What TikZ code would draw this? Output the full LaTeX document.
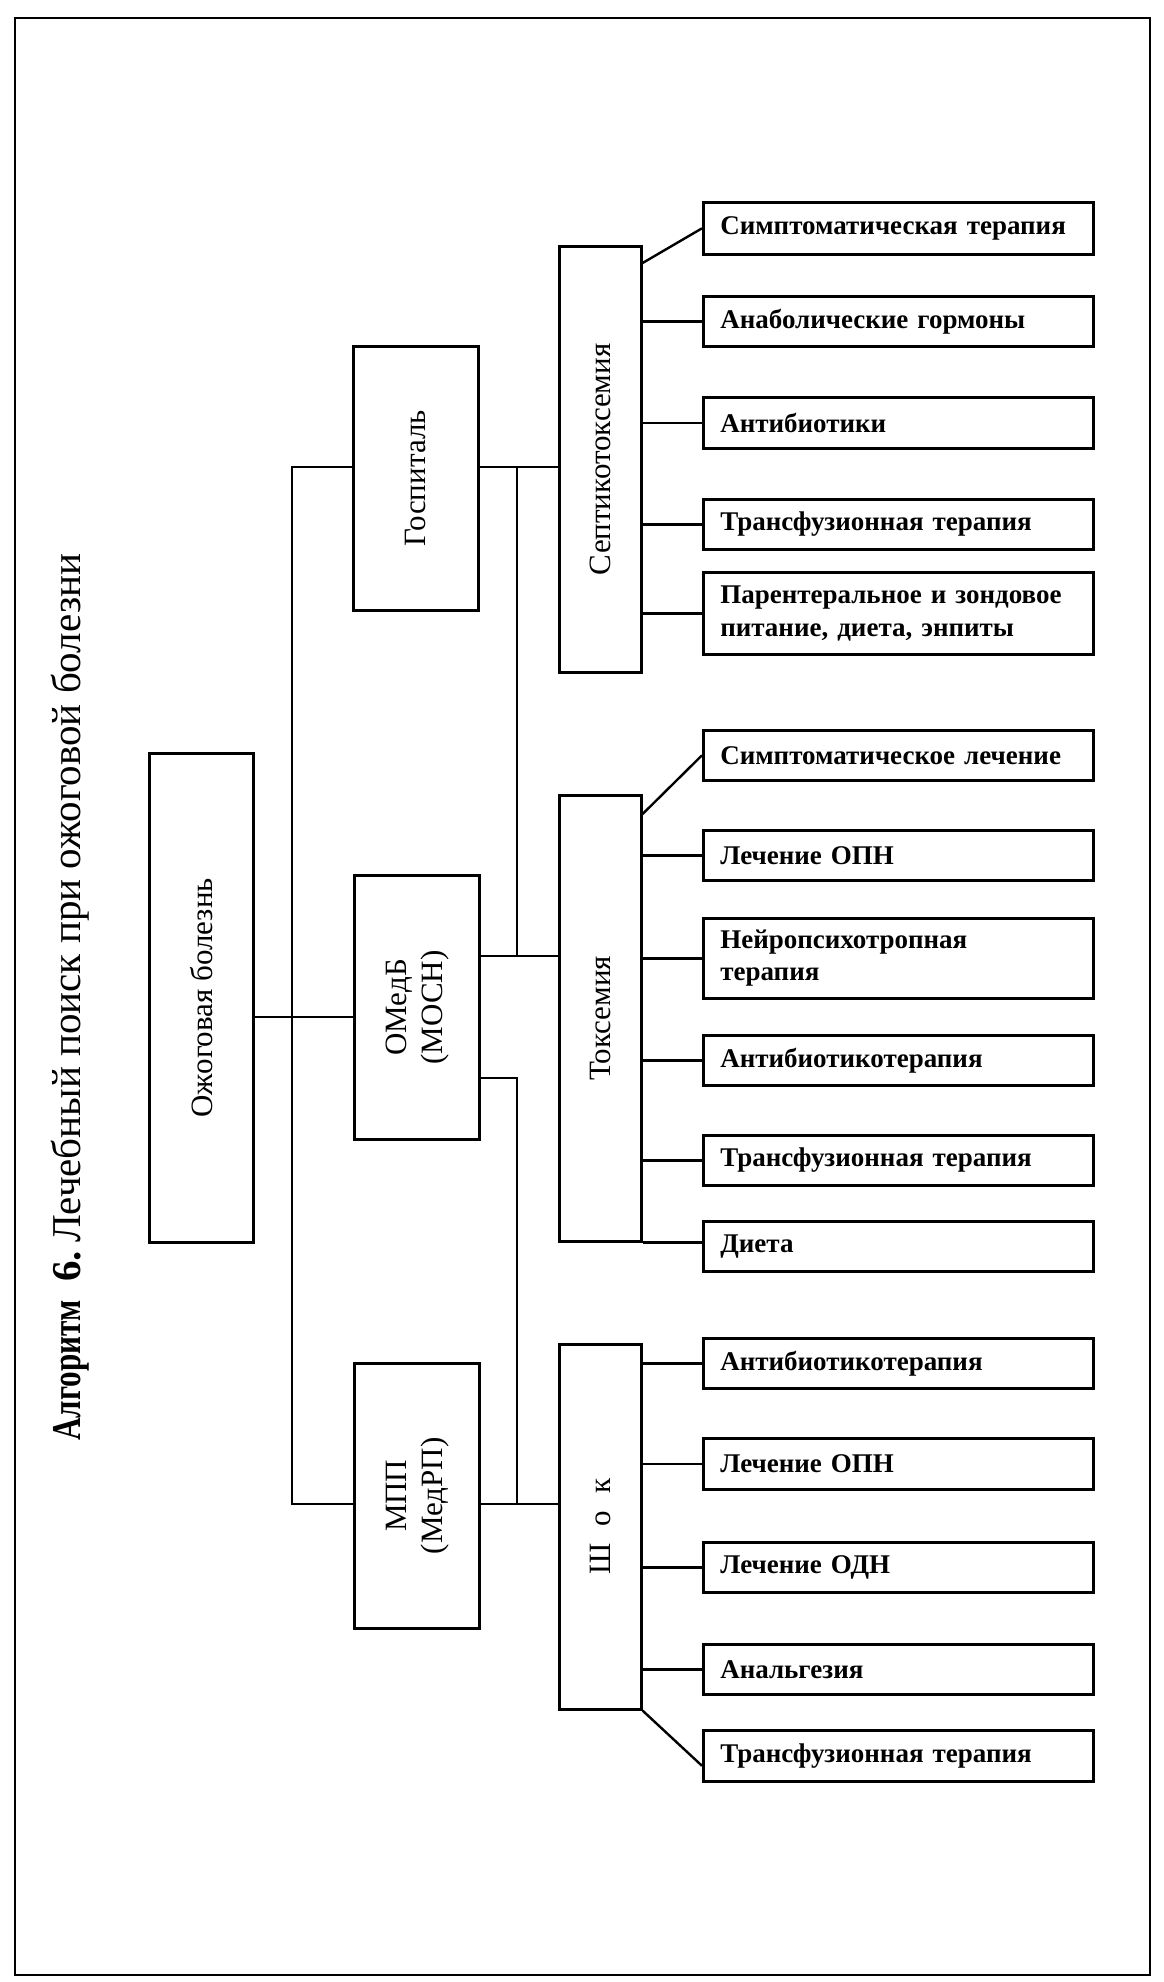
\documentclass[tikz,border=0pt]{standalone}
\usepackage{fontspec}
\setmainfont{Liberation Serif}
\begin{document}
\begin{tikzpicture}[x=1pt,y=-1pt,
  vbox/.style={draw, line width=2.6pt, anchor=north west, inner sep=0pt, font=\fontsize{31}{36}\selectfont},
  rbox/.style={draw, line width=2.6pt, anchor=north west, minimum width=390pt, text width=356pt, inner xsep=17pt, inner ysep=0pt, align=left, font=\fontsize{27}{32.5}\selectfont\bfseries},
  conn/.style={line width=2.4pt}]
\useasboundingbox (0,0) rectangle (1163,1982);
\draw[line width=2.8pt] (15,18) rectangle (1150,1975);

% title
\node[rotate=90, anchor=base west, inner sep=0pt, font=\fontsize{41}{47}\selectfont] (title) at (80,1441)
  {\scalebox{0.76}[1]{\textbf{Алгоритм}}\hspace{0.45em}\textbf{6.}\hspace{0.2em}Лечебный поиск при ожоговой болезни};

% main column boxes
\node[vbox, minimum width=104pt, minimum height=489pt] (ozh) at (148,752) {\rotatebox{90}{Ожоговая болезнь}};
\node[vbox, minimum width=125pt, minimum height=264pt] (gosp) at (352,345) {\rotatebox{90}{Госпиталь}};
\node[vbox, minimum width=125pt, minimum height=264pt] (omed) at (353,874) {\rotatebox{90}{\begin{tabular}{@{}c@{}}ОМедБ\\(МОСН)\end{tabular}}};
\node[vbox, minimum width=125pt, minimum height=265pt] (mpp) at (353,1362) {\rotatebox{90}{\begin{tabular}{@{}c@{}}МПП\\(МедРП)\end{tabular}}};

\node[vbox, minimum width=82pt, minimum height=426pt] (sept) at (558,245) {\rotatebox{90}{Септикотоксемия}};
\node[vbox, minimum width=82pt, minimum height=446pt] (tox) at (558,794) {\rotatebox{90}{Токсемия}};
\node[vbox, minimum width=82pt, minimum height=365pt] (shok) at (558,1343) {\rotatebox{90}{Ш\hspace{17pt}о\hspace{17pt}к}};

% right column
\node[rbox, minimum height=52pt] (s1) at (702,201) {Симптоматическая терапия};
\node[rbox, minimum height=50pt] (s2) at (702,295) {Анаболические гормоны};
\node[rbox, minimum height=51pt] (s3) at (702,396) {Антибиотики};
\node[rbox, minimum height=50pt] (s4) at (702,498) {Трансфузионная терапия};
\node[rbox, minimum height=82pt] (s5) at (702,571) {Парентеральное и зондовое\\питание, диета, энпиты};

\node[rbox, minimum height=50pt] (t1) at (702,729) {Симптоматическое лечение};
\node[rbox, minimum height=50pt] (t2) at (702,829) {Лечение ОПН};
\node[rbox, minimum height=80pt] (t3) at (702,917) {Нейропсихотропная\\терапия};
\node[rbox, minimum height=50pt] (t4) at (702,1034) {Антибиотикотерапия};
\node[rbox, minimum height=50pt] (t5) at (702,1134) {Трансфузионная терапия};
\node[rbox, minimum height=50pt] (t6) at (702,1220) {Диета};

\node[rbox, minimum height=50pt] (k1) at (702,1337) {Антибиотикотерапия};
\node[rbox, minimum height=51pt] (k2) at (702,1437) {Лечение ОПН};
\node[rbox, minimum height=50pt] (k3) at (702,1541) {Лечение ОДН};
\node[rbox, minimum height=50pt] (k4) at (702,1643) {Анальгезия};
\node[rbox, minimum height=51pt] (k5) at (702,1729) {Трансфузионная терапия};

% junction coordinates
\coordinate (trTop) at (292,467);
\coordinate (trMid) at (292,1017);
\coordinate (trBot) at (292,1504);
\coordinate (bTop) at (517,467);
\coordinate (bMid) at (517,956);
\coordinate (bLow) at (517,1078);
\coordinate (bBot) at (517,1504);

% left connectors
\draw[conn] (ozh.east |- trMid) -- (omed.west |- trMid);
\draw[conn] (gosp.west |- trTop) -- (trTop) -- (trBot) -- (mpp.west |- trBot);
\draw[conn] (gosp.east |- bTop) -- (sept.west |- bTop);
\draw[conn] (bTop) -- (bMid);
\draw[conn] (omed.east |- bMid) -- (tox.west |- bMid);
\draw[conn] (omed.east |- bLow) -- (bLow) -- (bBot);
\draw[conn] (mpp.east |- bBot) -- (shok.west |- bBot);

% septicotoxemia branches
\draw[conn] ([yshift=-18pt]sept.north east) -- (s1.west);
\foreach \n in {s2,s3,s4,s5} \draw[conn] (sept.east |- \n.west) -- (\n.west);

% toxemia branches
\draw[conn] ([yshift=-20pt]tox.north east) -- (t1.west);
\foreach \n in {t2,t3,t4,t5} \draw[conn] (tox.east |- \n.west) -- (\n.west);
\draw[conn] (tox.south east) -- (t6.west |- tox.south east);

% shock branches
\foreach \n in {k1,k2,k3,k4} \draw[conn] (shok.east |- \n.west) -- (\n.west);
\draw[conn] (shok.south east) -- ([yshift=-10pt]k5.west);
\end{tikzpicture}
\end{document}
